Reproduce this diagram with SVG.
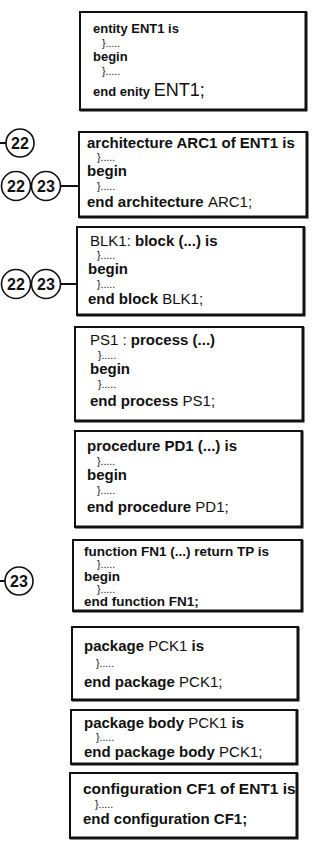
<svg xmlns="http://www.w3.org/2000/svg" width="326" height="843" viewBox="0 0 326 843">
<style>
.box{fill:#fff;stroke:#111;stroke-width:2}
.sh{stroke:#111;stroke-width:3;fill:none}
text{font-family:"Liberation Sans",Arial,sans-serif;fill:#111}
.b{font-weight:bold;font-size:15px}
.s{font-size:13px}
.m{font-size:13.5px}
.r{font-weight:normal}
.d{font-size:10.5px;font-weight:normal}
.big{font-size:18px;font-weight:normal}
.c{fill:#fff;stroke:#111;stroke-width:1.6}
.cn{font-size:16px;font-weight:bold;text-anchor:middle}
.ln{stroke:#111;stroke-width:2;fill:none}
</style>
<rect width="326" height="843" fill="#fff"/>
<g id="connectors">
<line class="ln" x1="0" y1="143" x2="7" y2="143"/>
<line class="ln" x1="60" y1="186" x2="88" y2="186"/>
<line class="ln" x1="60" y1="284" x2="86" y2="284"/>
<line class="ln" x1="0" y1="581" x2="6" y2="581"/>
</g>
<g id="c22a"><circle class="c" cx="20" cy="143" r="14"/><text class="cn" x="20" y="148.5">22</text></g>
<g id="c22b"><circle class="c" cx="16" cy="186" r="14.5"/><text class="cn" x="16" y="191.5">22</text></g>
<g id="c23b"><circle class="c" cx="46" cy="186" r="14.5"/><text class="cn" x="46" y="191.5">23</text></g>
<g id="c22c"><circle class="c" cx="16" cy="284" r="14.5"/><text class="cn" x="16" y="289.5">22</text></g>
<g id="c23c"><circle class="c" cx="46" cy="284" r="14.5"/><text class="cn" x="46" y="289.5">23</text></g>
<g id="c23d"><circle class="c" cx="19" cy="581" r="14"/><text class="cn" x="19" y="586.5">23</text></g>

<g id="ent1">
<rect class="box" x="80" y="12" width="226" height="98"/>
<polyline class="sh" points="306,12 306,110 80,110"/>
<text class="b s" x="93" y="33">entity ENT1 is</text>
<text class="d" x="102" y="47">}.....</text>
<text class="b s" x="93" y="61">begin</text>
<text class="d" x="102" y="75">}.....</text>
<text class="b s" x="93" y="96">end enity <tspan class="big">ENT1;</tspan></text>
</g>

<g id="arc1">
<rect class="box" x="79" y="132" width="228" height="85"/>
<polyline class="sh" points="307,132 307,217 79,217"/>
<text class="b" x="87" y="148">architecture ARC1 of ENT1 is</text>
<text class="d" x="97" y="161">}.....</text>
<text class="b" x="87" y="176">begin</text>
<text class="d" x="97" y="190">}.....</text>
<text class="b" x="87" y="207">end architecture <tspan class="r">ARC1;</tspan></text>
</g>

<g id="blk1">
<rect class="box" x="77" y="227" width="227" height="88"/>
<polyline class="sh" points="304,227 304,315 77,315"/>
<text class="b" x="90" y="246"><tspan class="r">BLK1:</tspan> block (...) is</text>
<text class="d" x="97" y="259">}.....</text>
<text class="b" x="88" y="274">begin</text>
<text class="d" x="97" y="288">}.....</text>
<text class="b" x="88" y="304">end block <tspan class="r">BLK1;</tspan></text>
</g>

<g id="ps1">
<rect class="box" x="75" y="327" width="228" height="94"/>
<polyline class="sh" points="303,327 303,421 75,421"/>
<text class="b" x="90" y="345"><tspan class="r">PS1 :</tspan> process (...)</text>
<text class="d" x="98" y="359">}.....</text>
<text class="b" x="90" y="374">begin</text>
<text class="d" x="98" y="388">}.....</text>
<text class="b" x="90" y="406">end process <tspan class="r">PS1;</tspan></text>
</g>

<g id="pd1">
<rect class="box" x="75" y="431" width="227" height="96"/>
<polyline class="sh" points="302,431 302,527 75,527"/>
<text class="b" x="87" y="451">procedure PD1 (...) is</text>
<text class="d" x="97" y="465">}.....</text>
<text class="b" x="87" y="480">begin</text>
<text class="d" x="97" y="494">}.....</text>
<text class="b" x="87" y="512">end procedure <tspan class="r">PD1;</tspan></text>
</g>

<g id="fn1">
<rect class="box" x="73" y="540" width="229" height="71"/>
<polyline class="sh" points="302,540 302,611 73,611"/>
<text class="b m" x="84" y="556">function FN1 (...) return TP is</text>
<text class="d" x="97" y="568">}.....</text>
<text class="b m" x="84" y="581">begin</text>
<text class="d" x="97" y="593">}.....</text>
<text class="b m" x="84" y="606">end function FN1;</text>
</g>

<g id="pck1">
<rect class="box" x="72" y="627" width="226" height="73"/>
<polyline class="sh" points="298,627 298,700 72,700"/>
<text class="b" x="84" y="651">package <tspan class="r">PCK1</tspan> is</text>
<text class="d" x="96" y="667">}.....</text>
<text class="b" x="84" y="687">end package <tspan class="r">PCK1;</tspan></text>
</g>

<g id="pckbody">
<rect class="box" x="71" y="710" width="226" height="54"/>
<polyline class="sh" points="297,710 297,764 71,764"/>
<text class="b" x="84" y="728">package body <tspan class="r">PCK1</tspan> is</text>
<text class="d" x="96" y="741">}.....</text>
<text class="b" x="84" y="757">end package body <tspan class="r">PCK1;</tspan></text>
</g>

<g id="cf1">
<rect class="box" x="70" y="773" width="227" height="65"/>
<polyline class="sh" points="297,773 297,838 70,838"/>
<text class="b" x="83" y="794" style="font-size:15.5px">configuration CF1 of ENT1 is</text>
<text class="d" x="95" y="808">}.....</text>
<text class="b" x="83" y="824">end configuration CF1;</text>
</g>
</svg>
